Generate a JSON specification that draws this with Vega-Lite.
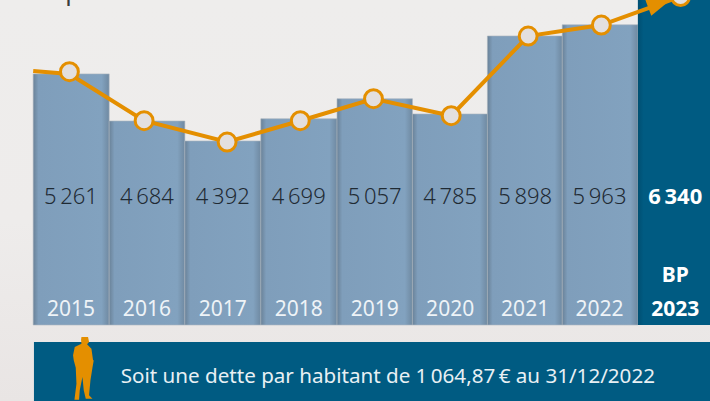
{
"$schema":"https://vega.github.io/schema/vega-lite/v6.json",
"autosize":{"type":"none"},"padding":0,"width":710,"height":401,
"background":"#ECEAE9",
"config":{"view":{"stroke":null}},
"datasets":{
"bars":[
{"annee":"2015","montant":"5\u2009261","milieu":2015,"debut":2014.5,"fin":2015.507,"base":2043,"hauteur":5250},
{"annee":"2016","montant":"4\u2009684","milieu":2016.007,"debut":2015.507,"fin":2016.51,"base":2043,"hauteur":4648},
{"annee":"2017","montant":"4\u2009392","milieu":2017.013,"debut":2016.51,"fin":2017.517,"base":2043,"hauteur":4393},
{"annee":"2018","montant":"4\u2009699","milieu":2018.02,"debut":2017.517,"fin":2018.527,"base":2043,"hauteur":4677},
{"annee":"2019","montant":"5\u2009057","milieu":2019.026,"debut":2018.527,"fin":2019.526,"base":2043,"hauteur":4933},
{"annee":"2020","montant":"4\u2009785","milieu":2020.026,"debut":2019.526,"fin":2020.52,"base":2043,"hauteur":4738},
{"annee":"2021","montant":"5\u2009898","milieu":2021.02,"debut":2020.52,"fin":2021.512,"base":2043,"hauteur":5734},
{"annee":"2022","montant":"5\u2009963","milieu":2022.006,"debut":2021.512,"fin":2022.514,"base":2043,"hauteur":5877}
],
"bp":[{"annee":"2023","montant":"6\u2009340","milieu":2023.01,"debut":2022.514,"fin":2023.47,"base":2043,"hauteur":6300}],
"ligne":[
{"x":2014.5,"y":5287},
{"x":2014.98,"y":5249},
{"x":2015.97,"y":4652},
{"x":2017.07,"y":4380},
{"x":2018.04,"y":4652},
{"x":2019.01,"y":4933},
{"x":2020.04,"y":4716},
{"x":2021.06,"y":5734},
{"x":2022.03,"y":5874},
{"x":2023.08,"y":6238}
],
"ronds":[
{"x":2014.98,"y":5278},
{"x":2015.97,"y":4652},
{"x":2017.07,"y":4380},
{"x":2018.04,"y":4652},
{"x":2019.01,"y":4933},
{"x":2020.04,"y":4716},
{"x":2021.06,"y":5734},
{"x":2022.03,"y":5874},
{"x":2023.08,"y":6238}
]
},
"layer":[
{"data":{"values":[{"a":2014.06,"b":2023.47,"c":1072,"d":6194}]},
 "mark":{"type":"rect","color":{"gradient":"linear","x1":0,"y1":0,"x2":0,"y2":1,"stops":[{"offset":0,"color":"#EEEDEC"},{"offset":0.55,"color":"#EEECEB"},{"offset":1,"color":"#E9E5E4"}]}},
 "encoding":{"x":{"field":"a","type":"quantitative","scale":{"domain":[2014.06,2023.47]},"axis":null},"x2":{"field":"b"},"y":{"field":"c","type":"quantitative","scale":{"domain":[1072,6194]},"axis":null},"y2":{"field":"d"}}},
{"data":{"values":[{"t":"Capital restant dû au 31 décembre 2022","x":2014.53,"y":6195}]},
 "mark":{"type":"text","align":"left","baseline":"alphabetic","font":"Noto Sans","fontSize":25,"color":"#3A3A3A"},
 "encoding":{"x":{"field":"x","type":"quantitative","scale":{"domain":[2014.06,2023.47]},"axis":null},"y":{"field":"y","type":"quantitative","scale":{"domain":[1072,6194]},"axis":null},"text":{"field":"t"}}},
{"data":{"name":"bars"},
 "mark":{"type":"rect","stroke":"#A9B4BE","strokeWidth":0.6,"color":{"gradient":"linear","x1":0,"y1":0,"x2":1,"y2":0,"stops":[{"offset":0,"color":"#6A8298"},{"offset":0.07,"color":"#7F9EBB"},{"offset":0.9,"color":"#82A2BF"},{"offset":1,"color":"#6F89A1"}]}},
 "encoding":{"x":{"field":"debut","type":"quantitative","scale":{"domain":[2014.06,2023.47]},"axis":null},"x2":{"field":"fin"},"y":{"field":"base","type":"quantitative","scale":{"domain":[1072,6194]},"axis":null},"y2":{"field":"hauteur"}}},
{"data":{"name":"bp"},
 "mark":{"type":"rect","color":{"gradient":"linear","x1":0,"y1":0,"x2":1,"y2":0,"stops":[{"offset":0,"color":"#004F72"},{"offset":0.08,"color":"#005B82"},{"offset":1,"color":"#005B82"}]}},
 "encoding":{"x":{"field":"debut","type":"quantitative","scale":{"domain":[2014.06,2023.47]},"axis":null},"x2":{"field":"fin"},"y":{"field":"base","type":"quantitative","scale":{"domain":[1072,6194]},"axis":null},"y2":{"field":"hauteur"}}},
{"data":{"values":[{"a":2014.51,"b":2023.47,"c":1072,"d":1826}]},
 "mark":{"type":"rect","color":"#005B82"},
 "encoding":{"x":{"field":"a","type":"quantitative","scale":{"domain":[2014.06,2023.47]},"axis":null},"x2":{"field":"b"},"y":{"field":"c","type":"quantitative","scale":{"domain":[1072,6194]},"axis":null},"y2":{"field":"d"}}},
{"data":{"name":"ligne"},
 "mark":{"type":"line","color":"#E48F00","strokeWidth":4},
 "encoding":{"x":{"field":"x","type":"quantitative","scale":{"domain":[2014.06,2023.47]},"axis":null},"y":{"field":"y","type":"quantitative","scale":{"domain":[1072,6194]},"axis":null}}},
{"data":{"values":[{"x":2023.08,"y":6238}]},
 "mark":{"type":"point","filled":true,"color":"#E48F00","opacity":1,"size":4,"shape":"M-9 2.5L-29.3 19.2L-37 -1.5Z"},
 "encoding":{"x":{"field":"x","type":"quantitative","scale":{"domain":[2014.06,2023.47]},"axis":null},"y":{"field":"y","type":"quantitative","scale":{"domain":[1072,6194]},"axis":null}}},
{"data":{"name":"ronds"},
 "mark":{"type":"point","shape":"circle","filled":true,"fill":"#E3DFDE","stroke":"#E48F00","strokeWidth":3,"opacity":1,"size":320},
 "encoding":{"x":{"field":"x","type":"quantitative","scale":{"domain":[2014.06,2023.47]},"axis":null},"y":{"field":"y","type":"quantitative","scale":{"domain":[1072,6194]},"axis":null}}},
{"data":{"name":"bars"},
 "mark":{"type":"text","font":"Noto Sans","fontSize":22,"fontWeight":300,"color":"#1F2A33","baseline":"middle"},
 "encoding":{"x":{"field":"milieu","type":"quantitative","scale":{"domain":[2014.06,2023.47]},"axis":null},"y":{"datum":3678,"scale":{"domain":[1072,6194]},"axis":null},"text":{"field":"montant"}}},
{"data":{"name":"bars"},
 "mark":{"type":"text","font":"Noto Sans","fontSize":21,"color":"#EEF3F7","baseline":"middle"},
 "encoding":{"x":{"field":"milieu","type":"quantitative","scale":{"domain":[2014.06,2023.47]},"axis":null},"y":{"datum":2235,"scale":{"domain":[1072,6194]},"axis":null},"text":{"field":"annee"}}},
{"data":{"name":"bp"},
 "mark":{"type":"text","font":"Noto Sans","fontSize":22,"fontWeight":"bold","color":"#FFFFFF","baseline":"middle"},
 "encoding":{"x":{"field":"milieu","type":"quantitative","scale":{"domain":[2014.06,2023.47]},"axis":null},"y":{"datum":3678,"scale":{"domain":[1072,6194]},"axis":null},"text":{"field":"montant"}}},
{"data":{"name":"bp"},
 "mark":{"type":"text","font":"Noto Sans","fontSize":21,"fontWeight":"bold","color":"#FFFFFF","baseline":"middle"},
 "encoding":{"x":{"field":"milieu","type":"quantitative","scale":{"domain":[2014.06,2023.47]},"axis":null},"y":{"datum":2235,"scale":{"domain":[1072,6194]},"axis":null},"text":{"field":"annee"}}},
{"data":{"values":[{"x":2023.01,"y":2669,"t":"BP"}]},
 "mark":{"type":"text","font":"Noto Sans","fontSize":21,"fontWeight":"bold","color":"#FFFFFF","baseline":"middle"},
 "encoding":{"x":{"field":"x","type":"quantitative","scale":{"domain":[2014.06,2023.47]},"axis":null},"y":{"field":"y","type":"quantitative","scale":{"domain":[1072,6194]},"axis":null},"text":{"field":"t"}}},
{"data":{"values":[{"x":2015.17,"y":1489}]},
 "mark":{"type":"point","filled":true,"color":"#E48F00","opacity":1,"size":4,"shape":"M-2.3 -31.3L4.3 -31.3L5.3 -26.3L3.3 -24L7.7 -19.7L9.3 -8L10 -8L8.7 -0.7L6.7 12L5.3 27L8.7 30.3L2 30.3L0 22L-1.3 8.7L-4 22L-4.7 31.3L-9.3 31.3L-7.3 15.3L-8 -0.7L-10 -8L-10.7 -13L-9 -21.3L-2.3 -24.7L-2.7 -28.7Z"},
 "encoding":{"x":{"field":"x","type":"quantitative","scale":{"domain":[2014.06,2023.47]},"axis":null},"y":{"field":"y","type":"quantitative","scale":{"domain":[1072,6194]},"axis":null}}},
{"data":{"values":[{"x":2015.66,"y":1379,"t":"Soit une dette par habitant de 1\u2009064,87\u2009€ au 31/12/2022"}]},
 "mark":{"type":"text","align":"left","baseline":"middle","font":"Noto Sans","fontSize":20.6,"color":"#E8F0F4"},
 "encoding":{"x":{"field":"x","type":"quantitative","scale":{"domain":[2014.06,2023.47]},"axis":null},"y":{"field":"y","type":"quantitative","scale":{"domain":[1072,6194]},"axis":null},"text":{"field":"t"}}}
]
}
